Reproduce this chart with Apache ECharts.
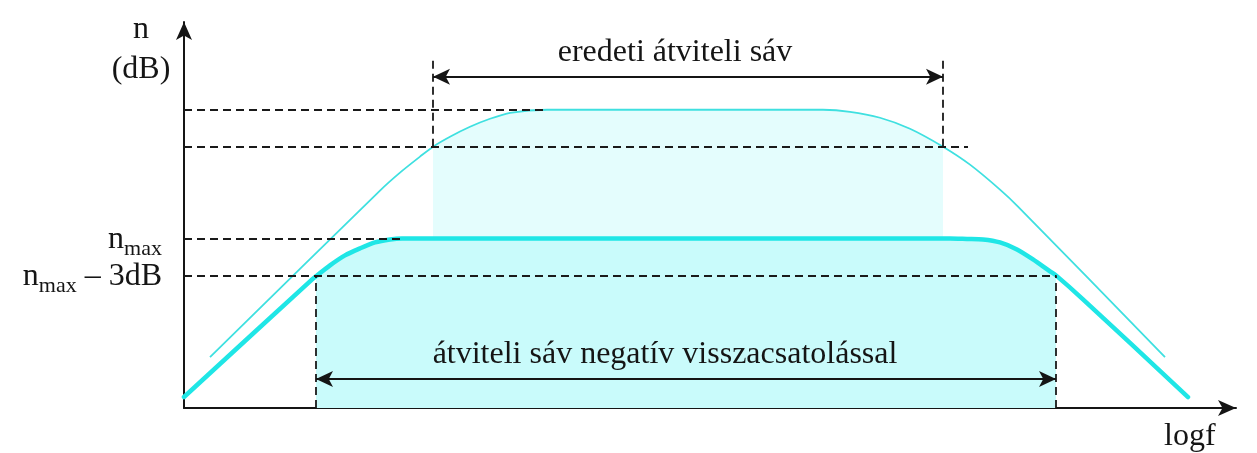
<!DOCTYPE html>
<html>
<head>
<meta charset="utf-8">
<script src="https://cdn.jsdelivr.net/npm/echarts@6/dist/echarts.min.js"></script>
<style>
  html, body { margin: 0; padding: 0; background: #fff; }
  #chart { width: 1257px; height: 453px; }
</style>
</head>
<body>
<div id="chart"></div>
<script>
// x: log f (arbitrary units), y: n in arbitrary units (37 units = 3 dB)
const origCurve = [
    [26, 51], [196, 218], [216, 236], [236, 252], [249, 262], [266, 272],
    [286, 282], [306, 290], [326, 296], [363, 299], [639, 299], [666, 297],
    [696, 291], [726, 280], [759, 262], [786, 244], [816, 219], [834, 202],
    [981, 51]
];
const fbCurve = [
    [0, 11], [126, 127], [132, 132], [146, 143], [161, 153], [176, 160],
    [191, 166], [206, 169], [218, 170], [766, 170], [783, 169.5], [799, 169],
    [816, 166], [833, 159], [849, 149], [866, 137], [872, 133], [899, 109],
    [1004, 11]
];

// levels and band edges
const origTop = 299;
const orig3dB = 262;
const nMax = 170;
const nMax3dB = 133;
const origBand = [249, 759];
const fbBand = [132, 872];
const yTicks = [nMax3dB, nMax];
const yTickText = { 170: '{n|n}{sub|max}', 133: '{n|n}{sub|max}{n| – 3dB}' };

const serif = 'Liberation Serif';
const ink = '#151515';

function inBand(curve, band) {
    return curve.filter(p => p[0] >= band[0] && p[0] <= band[1]);
}

let myChart = echarts.init(document.getElementById('chart'));

const dashed = { type: [8, 5], color: '#1a1a1a', width: 1.8 };

const option = {
    animation: false,
    grid: { left: 184, right: 21, top: 22, bottom: 44 },
    xAxis: {
        type: 'value',
        min: 0,
        max: 1052,
        name: 'logf',
        nameLocation: 'end',
        nameGap: -72,
        nameTextStyle: { fontFamily: serif, fontSize: 32, color: ink, align: 'left', verticalAlign: 'top', padding: [13, 0, 0, 0] },
        axisLine: { show: true, symbol: ['none', 'arrow'], symbolSize: [12, 18], lineStyle: { color: ink, width: 2 } },
        axisTick: { show: false },
        axisLabel: { show: false },
        splitLine: { show: false }
    },
    yAxis: {
        type: 'value',
        min: 0,
        max: 387,
        name: 'n\n(dB)',
        nameLocation: 'end',
        nameGap: -68,
        nameTextStyle: { fontFamily: serif, fontSize: 32, lineHeight: 40, color: ink, align: 'center', verticalAlign: 'bottom', padding: [0, 86, 0, 0] },
        axisLine: { show: true, symbol: ['none', 'arrow'], symbolSize: [12, 18], lineStyle: { color: ink, width: 2 } },
        axisTick: { show: false },
        splitLine: { show: false },
        axisLabel: {
            customValues: yTicks,
            margin: 22,
            hideOverlap: false,
            padding: [8, 0, 0, 0],
            formatter: v => yTickText[v] || '',
            rich: {
                n: { fontFamily: serif, fontSize: 32, lineHeight: 26, color: ink, verticalAlign: 'bottom' },
                sub: { fontFamily: serif, fontSize: 22, lineHeight: 20, color: ink, verticalAlign: 'bottom', padding: [0, 0, -5, 0] }
            }
        }
    },
    series: [
        {
            name: 'orig band fill',
            type: 'line',
            data: inBand(origCurve, origBand),
            smooth: 0.25,
            showSymbol: false,
            lineStyle: { width: 0 },
            areaStyle: { color: '#e4fdfd', opacity: 1, origin: 'start' },
            z: 1
        },
        {
            name: 'fb band fill',
            type: 'line',
            data: inBand(fbCurve, fbBand),
            smooth: 0.25,
            showSymbol: false,
            lineStyle: { width: 0 },
            areaStyle: { color: '#c9fbfb', opacity: 1, origin: 'start' },
            z: 2
        },
        {
            name: 'eredeti',
            type: 'line',
            data: origCurve,
            smooth: 0.25,
            showSymbol: false,
            lineStyle: { color: '#3fe0e0', width: 1.8 },
            z: 3
        },
        {
            name: 'negatív visszacsatolással',
            type: 'line',
            data: fbCurve,
            smooth: 0.25,
            showSymbol: false,
            lineStyle: { color: '#1fe6e6', width: 4.5, join: 'round', cap: 'round' },
            z: 4
        },
        {
            name: 'guides',
            type: 'line',
            data: [],
            z: 5,
            markLine: {
                silent: true,
                symbol: ['none', 'none'],
                lineStyle: dashed,
                label: { show: false },
                data: [
                    [{ coord: [0, origTop] }, { coord: [363, origTop] }],
                    [{ coord: [0, orig3dB] }, { coord: [784, orig3dB] }],
                    [{ coord: [0, nMax] }, { coord: [219, nMax] }],
                    [{ coord: [0, nMax3dB] }, { coord: [fbBand[1], nMax3dB] }],
                    [{ coord: [origBand[0], orig3dB] }, { coord: [origBand[0], 352] }],
                    [{ coord: [origBand[1], orig3dB] }, { coord: [origBand[1], 352] }],
                    [{ coord: [fbBand[0], 0] }, { coord: [fbBand[0], nMax3dB] }],
                    [{ coord: [fbBand[1], 0] }, { coord: [fbBand[1], nMax3dB] }]
                ]
            }
        },
        {
            name: 'bands',
            type: 'line',
            data: [],
            z: 6,
            markLine: {
                silent: true,
                symbol: ['arrow', 'arrow'],
                symbolSize: [12, 17],
                lineStyle: { type: 'solid', color: ink, width: 1.8 },
                label: {
                    show: true,
                    position: 'middle',
                    distance: 8,
                    fontFamily: serif,
                    fontSize: 32,
                    color: ink
                },
                data: [
                    [{ coord: [origBand[0], 332], label: { formatter: 'eredeti átviteli sáv', padding: [0, 26, 0, 0] } }, { coord: [origBand[1], 332] }],
                    [{ coord: [fbBand[0], 29], label: { formatter: 'átviteli sáv negatív visszacsatolással', padding: [0, 42, 0, 0] } }, { coord: [fbBand[1], 29] }]
                ]
            }
        }
    ]
};
myChart.setOption(option);
</script>
</body>
</html>
